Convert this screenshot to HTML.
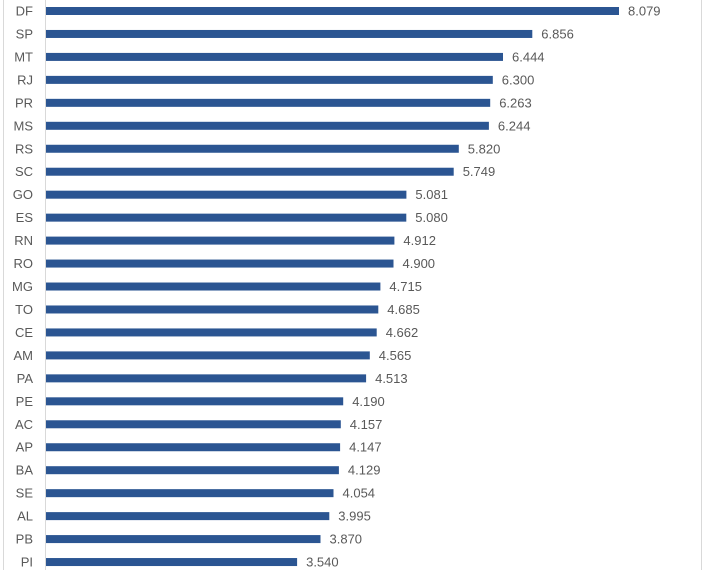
<!DOCTYPE html>
<html><head><meta charset="utf-8"><style>
html,body{margin:0;padding:0;background:#fff;}
svg text{font-family:"Liberation Sans",sans-serif;font-size:13px;fill:#595959;}
rect.b{fill:#2b5592;}
</style></head><body>
<svg width="704" height="570" xmlns="http://www.w3.org/2000/svg">
<rect x="0" y="0" width="704" height="570" fill="#fff"/>
<line x1="3.5" y1="0" x2="3.5" y2="570" stroke="#d9d9d9"/>
<line x1="701.5" y1="0" x2="701.5" y2="570" stroke="#d9d9d9"/>
<line x1="45.5" y1="0" x2="45.5" y2="570" stroke="#d9d9d9"/>
<g transform="translate(0,11)"><rect class="b" x="46" y="-4" width="573" height="8"/><text x="33" y="4.5" text-anchor="end">DF</text><text x="628" y="4.5">8.079</text></g>
<g transform="translate(0,33.96)"><rect class="b" x="46" y="-4" width="486.3" height="8"/><text x="33" y="4.5" text-anchor="end">SP</text><text x="541.3" y="4.5">6.856</text></g>
<g transform="translate(0,56.92)"><rect class="b" x="46" y="-4" width="457" height="8"/><text x="33" y="4.5" text-anchor="end">MT</text><text x="512" y="4.5">6.444</text></g>
<g transform="translate(0,79.88)"><rect class="b" x="46" y="-4" width="446.8" height="8"/><text x="33" y="4.5" text-anchor="end">RJ</text><text x="501.8" y="4.5">6.300</text></g>
<g transform="translate(0,102.84)"><rect class="b" x="46" y="-4" width="444.2" height="8"/><text x="33" y="4.5" text-anchor="end">PR</text><text x="499.2" y="4.5">6.263</text></g>
<g transform="translate(0,125.8)"><rect class="b" x="46" y="-4" width="442.9" height="8"/><text x="33" y="4.5" text-anchor="end">MS</text><text x="497.9" y="4.5">6.244</text></g>
<g transform="translate(0,148.76)"><rect class="b" x="46" y="-4" width="412.8" height="8"/><text x="33" y="4.5" text-anchor="end">RS</text><text x="467.8" y="4.5">5.820</text></g>
<g transform="translate(0,171.72)"><rect class="b" x="46" y="-4" width="407.7" height="8"/><text x="33" y="4.5" text-anchor="end">SC</text><text x="462.7" y="4.5">5.749</text></g>
<g transform="translate(0,194.68)"><rect class="b" x="46" y="-4" width="360.4" height="8"/><text x="33" y="4.5" text-anchor="end">GO</text><text x="415.4" y="4.5">5.081</text></g>
<g transform="translate(0,217.64)"><rect class="b" x="46" y="-4" width="360.3" height="8"/><text x="33" y="4.5" text-anchor="end">ES</text><text x="415.3" y="4.5">5.080</text></g>
<g transform="translate(0,240.6)"><rect class="b" x="46" y="-4" width="348.4" height="8"/><text x="33" y="4.5" text-anchor="end">RN</text><text x="403.4" y="4.5">4.912</text></g>
<g transform="translate(0,263.56)"><rect class="b" x="46" y="-4" width="347.5" height="8"/><text x="33" y="4.5" text-anchor="end">RO</text><text x="402.5" y="4.5">4.900</text></g>
<g transform="translate(0,286.52)"><rect class="b" x="46" y="-4" width="334.4" height="8"/><text x="33" y="4.5" text-anchor="end">MG</text><text x="389.4" y="4.5">4.715</text></g>
<g transform="translate(0,309.48)"><rect class="b" x="46" y="-4" width="332.3" height="8"/><text x="33" y="4.5" text-anchor="end">TO</text><text x="387.3" y="4.5">4.685</text></g>
<g transform="translate(0,332.44)"><rect class="b" x="46" y="-4" width="330.7" height="8"/><text x="33" y="4.5" text-anchor="end">CE</text><text x="385.7" y="4.5">4.662</text></g>
<g transform="translate(0,355.4)"><rect class="b" x="46" y="-4" width="323.8" height="8"/><text x="33" y="4.5" text-anchor="end">AM</text><text x="378.8" y="4.5">4.565</text></g>
<g transform="translate(0,378.36)"><rect class="b" x="46" y="-4" width="320.1" height="8"/><text x="33" y="4.5" text-anchor="end">PA</text><text x="375.1" y="4.5">4.513</text></g>
<g transform="translate(0,401.32)"><rect class="b" x="46" y="-4" width="297.2" height="8"/><text x="33" y="4.5" text-anchor="end">PE</text><text x="352.2" y="4.5">4.190</text></g>
<g transform="translate(0,424.28)"><rect class="b" x="46" y="-4" width="294.8" height="8"/><text x="33" y="4.5" text-anchor="end">AC</text><text x="349.8" y="4.5">4.157</text></g>
<g transform="translate(0,447.24)"><rect class="b" x="46" y="-4" width="294.1" height="8"/><text x="33" y="4.5" text-anchor="end">AP</text><text x="349.1" y="4.5">4.147</text></g>
<g transform="translate(0,470.2)"><rect class="b" x="46" y="-4" width="292.9" height="8"/><text x="33" y="4.5" text-anchor="end">BA</text><text x="347.9" y="4.5">4.129</text></g>
<g transform="translate(0,493.16)"><rect class="b" x="46" y="-4" width="287.5" height="8"/><text x="33" y="4.5" text-anchor="end">SE</text><text x="342.5" y="4.5">4.054</text></g>
<g transform="translate(0,516.12)"><rect class="b" x="46" y="-4" width="283.3" height="8"/><text x="33" y="4.5" text-anchor="end">AL</text><text x="338.3" y="4.5">3.995</text></g>
<g transform="translate(0,539.08)"><rect class="b" x="46" y="-4" width="274.5" height="8"/><text x="33" y="4.5" text-anchor="end">PB</text><text x="329.5" y="4.5">3.870</text></g>
<g transform="translate(0,562.04)"><rect class="b" x="46" y="-4" width="251.1" height="8"/><text x="33" y="4.5" text-anchor="end">PI</text><text x="306.1" y="4.5">3.540</text></g>
</svg>
</body></html>
